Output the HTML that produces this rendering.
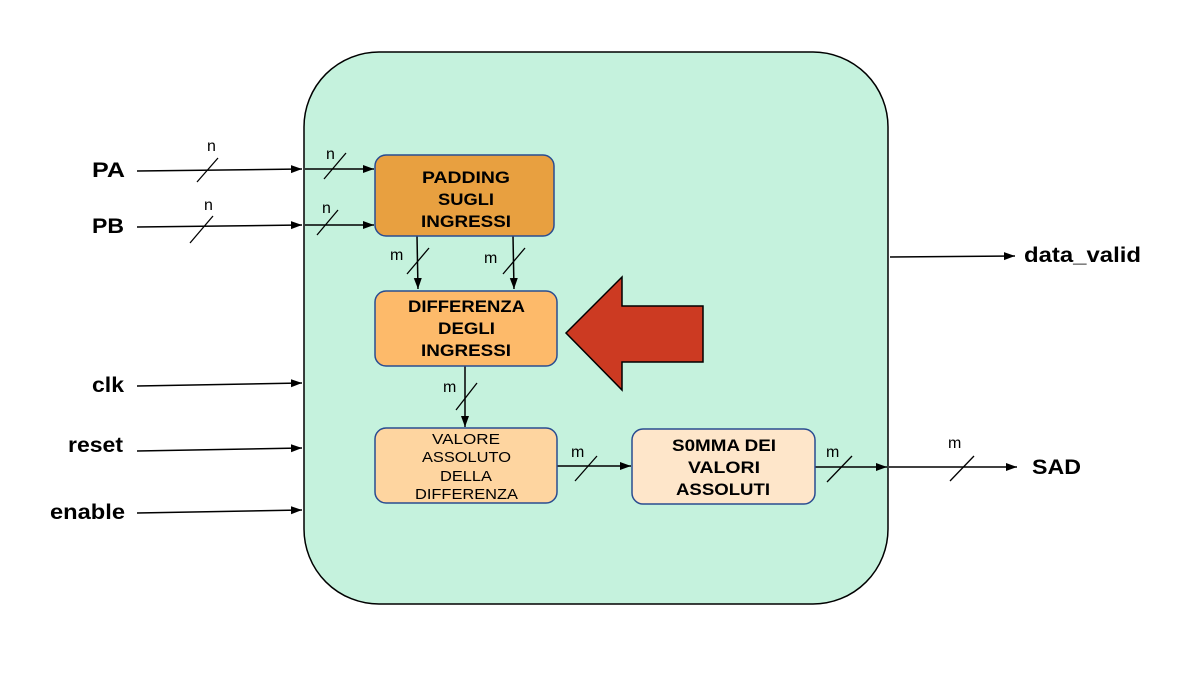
<!DOCTYPE html>
<html><head><meta charset="utf-8"><style>html,body{margin:0;padding:0;background:#fff}svg{display:block}</style></head><body>
<svg width="1179" height="697" viewBox="0 0 1179 697" xmlns="http://www.w3.org/2000/svg" font-family="Liberation Sans, sans-serif">
<defs><marker id="a" markerWidth="12" markerHeight="10" refX="11" refY="5" orient="auto" markerUnits="userSpaceOnUse"><path d="M0,1 L11,5 L0,9 z" fill="#000"/></marker></defs>
<rect x="304" y="52" width="584" height="552" rx="75" fill="#C5F2DD" stroke="#000" stroke-width="1.5"/>
<g stroke="#000" stroke-width="1.5" fill="none" marker-end="url(#a)">
<line x1="137" y1="171" x2="302" y2="169"/>
<line x1="137" y1="227" x2="302" y2="225"/>
<line x1="305" y1="169" x2="374" y2="169"/>
<line x1="305" y1="225" x2="374" y2="225"/>
<line x1="137" y1="386" x2="302" y2="383"/>
<line x1="137" y1="451" x2="302" y2="448"/>
<line x1="137" y1="513" x2="302" y2="510"/>
<line x1="890" y1="257" x2="1015" y2="256"/>
<line x1="417" y1="236" x2="418" y2="289"/>
<line x1="513" y1="236" x2="514" y2="289"/>
<line x1="465" y1="366" x2="465" y2="427"/>
<line x1="557" y1="466" x2="631" y2="466"/>
<line x1="813" y1="467" x2="887" y2="467"/>
<line x1="889" y1="467" x2="1017" y2="467"/>
</g>
<g stroke="#000" stroke-width="1.3">
<line x1="197" y1="182" x2="218" y2="158"/>
<line x1="324" y1="179" x2="346" y2="153"/>
<line x1="190" y1="243" x2="213" y2="216"/>
<line x1="317" y1="235" x2="338" y2="210"/>
<line x1="407" y1="274" x2="429" y2="248"/>
<line x1="503" y1="274" x2="525" y2="248"/>
<line x1="456" y1="410" x2="477" y2="383"/>
<line x1="575" y1="481" x2="597" y2="456"/>
<line x1="827" y1="482" x2="852" y2="456"/>
<line x1="950" y1="481" x2="974" y2="456"/>
</g>
<g font-size="16" fill="#000">
<text x="207" y="151">n</text><text x="326" y="159">n</text>
<text x="204" y="210">n</text><text x="322" y="213">n</text>
<text x="390" y="260">m</text><text x="484" y="263">m</text>
<text x="443" y="392">m</text><text x="571" y="457">m</text>
<text x="826" y="457">m</text><text x="948" y="448">m</text>
</g>
<rect x="375" y="155" width="179" height="81" rx="11" fill="#E8A040" stroke="#2A4C90" stroke-width="1.5"/>
<rect x="375" y="291" width="182" height="75" rx="11" fill="#FDBA6A" stroke="#2A4C90" stroke-width="1.5"/>
<rect x="375" y="428" width="182" height="75" rx="11" fill="#FED5A0" stroke="#2A4C90" stroke-width="1.5"/>
<rect x="632" y="429" width="183" height="75" rx="11" fill="#FEE6CA" stroke="#2A4C90" stroke-width="1.5"/>
<path d="M566,333 L622,277 L622,306 L703,306 L703,362 L622,362 L622,390 Z" fill="#CC3A22" stroke="#000" stroke-width="1.5"/>
<g font-weight="bold" font-size="17" fill="#000">
<text x="422" y="183" textLength="88" lengthAdjust="spacingAndGlyphs">PADDING</text><text x="438" y="205" textLength="56" lengthAdjust="spacingAndGlyphs">SUGLI</text><text x="421" y="227" textLength="90" lengthAdjust="spacingAndGlyphs">INGRESSI</text>
<text x="408" y="312" textLength="117" lengthAdjust="spacingAndGlyphs">DIFFERENZA</text><text x="438" y="334" textLength="57" lengthAdjust="spacingAndGlyphs">DEGLI</text><text x="421" y="356" textLength="90" lengthAdjust="spacingAndGlyphs">INGRESSI</text>
<text x="672" y="451" textLength="104" lengthAdjust="spacingAndGlyphs">S0MMA DEI</text><text x="688" y="473" textLength="72" lengthAdjust="spacingAndGlyphs">VALORI</text><text x="676" y="495" textLength="94" lengthAdjust="spacingAndGlyphs">ASSOLUTI</text>
</g>
<g font-size="15" fill="#000">
<text x="432" y="444" textLength="68" lengthAdjust="spacingAndGlyphs">VALORE</text><text x="422" y="462" textLength="89" lengthAdjust="spacingAndGlyphs">ASSOLUTO</text><text x="440" y="481" textLength="52" lengthAdjust="spacingAndGlyphs">DELLA</text><text x="415" y="499" textLength="103" lengthAdjust="spacingAndGlyphs">DIFFERENZA</text>
</g>
<g font-weight="bold" font-size="21" fill="#000">
<text x="92" y="177" textLength="33" lengthAdjust="spacingAndGlyphs">PA</text><text x="92" y="233" textLength="32" lengthAdjust="spacingAndGlyphs">PB</text>
<text x="92" y="392" textLength="32" lengthAdjust="spacingAndGlyphs">clk</text><text x="68" y="452" textLength="55" lengthAdjust="spacingAndGlyphs">reset</text><text x="50" y="519" textLength="75" lengthAdjust="spacingAndGlyphs">enable</text>
<text x="1024" y="262" textLength="117" lengthAdjust="spacingAndGlyphs">data_valid</text><text x="1032" y="474" textLength="49" lengthAdjust="spacingAndGlyphs">SAD</text>
</g>
</svg>
</body></html>
